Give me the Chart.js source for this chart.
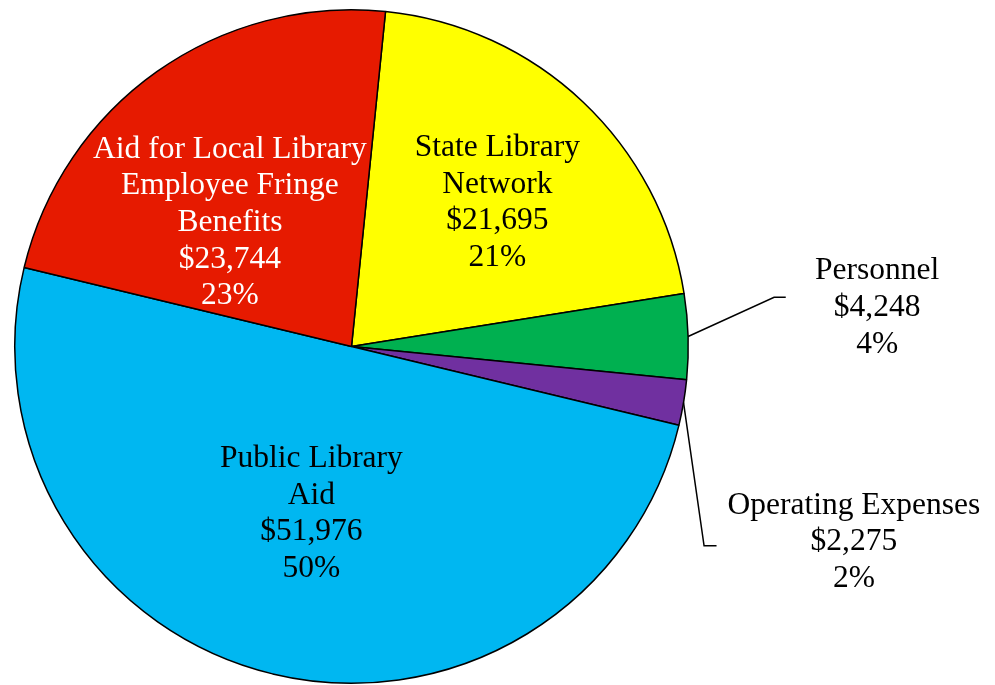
<!DOCTYPE html>
<html>
<head>
<meta charset="utf-8">
<script src="https://cdn.jsdelivr.net/npm/chart.js@4/dist/chart.umd.min.js"></script>
<style>
  html, body { margin: 0; padding: 0; background: #ffffff; }
  #wrap { width: 995px; height: 685px; }
</style>
</head>
<body>
<div id="wrap"><canvas id="budgetPie" width="995" height="685"></canvas></div>
<script>
// ====================================
// DATA
// ====================================
const categories = [
  ["State Library", "Network"],
  ["Personnel"],
  ["Operating Expenses"],
  ["Public Library", "Aid"],
  ["Aid for Local Library", "Employee Fringe", "Benefits"],
];
const amounts = [21695, 4248, 2275, 51976, 23744];

// ====================================
// STYLE / LAYOUT
// ====================================
const sliceColors = ["#ffff00", "#00b050", "#7030a0", "#00b7f1", "#e61a00"];
const textColors = ["#000000", "#000000", "#000000", "#000000", "#ffffff"];
const FONT_SIZE = 31.5;
const LINE_HEIGHT = 36.7;

// label anchor (centre x, first baseline) relative to pie centre, in radii
const labelAnchors = [
  { dx: 0.433, dy: -0.566 },
  { dx: 1.561, dy: -0.2 },
  { dx: 1.492, dy: 0.496 },
  { dx: -0.119, dy: 0.358 },
  { dx: -0.361, dy: -0.561 },
];
// leader lines for the outside labels: elbow and end point, in radii
const leaders = {
  1: { ex: 1.255, ey: -0.146, tx: 1.2895 },
  2: { ex: 1.047, ey: 0.592, tx: 1.084 },
};

const total = amounts.reduce((a, b) => a + b, 0);

// ====================================
// LABEL PLUGIN
// ====================================
const sliceLabels = {
  id: "sliceLabels",
  afterDatasetsDraw(chart) {
    const ctx = chart.ctx;
    const meta = chart.getDatasetMeta(0);
    ctx.save();
    meta.data.forEach(function (arc, i) {
      const p = arc.getProps(["x", "y", "outerRadius", "startAngle", "endAngle"], true);
      const r = p.outerRadius;

      // leader line from the slice edge
      const leader = leaders[i];
      if (leader) {
        const mid = (p.startAngle + p.endAngle) / 2;
        ctx.beginPath();
        ctx.moveTo(p.x + Math.cos(mid) * r, p.y + Math.sin(mid) * r);
        ctx.lineTo(p.x + leader.ex * r, p.y + leader.ey * r);
        ctx.lineTo(p.x + leader.tx * r, p.y + leader.ey * r);
        ctx.strokeStyle = "#000000";
        ctx.lineWidth = 1.5;
        ctx.stroke();
      }

      const lines = categories[i].concat([
        "$" + amounts[i].toLocaleString("en-US"),
        Math.round((amounts[i] / total) * 100) + "%",
      ]);
      const a = labelAnchors[i];
      ctx.font = FONT_SIZE + 'px "Liberation Serif", "Times New Roman", serif';
      ctx.fillStyle = textColors[i];
      ctx.textAlign = "center";
      ctx.textBaseline = "alphabetic";
      lines.forEach(function (line, k) {
        ctx.fillText(line, p.x + a.dx * r, p.y + a.dy * r + k * LINE_HEIGHT);
      });
    });
    ctx.restore();
  },
};

// ====================================
// CHART
// ====================================
new Chart(document.getElementById("budgetPie").getContext("2d"), {
  type: "pie",
  data: {
    labels: categories.map((c) => c.join(" ")),
    datasets: [
      {
        data: amounts,
        backgroundColor: sliceColors,
        borderColor: "#000000",
        borderWidth: 1.5,
      },
    ],
  },
  options: {
    responsive: false,
    devicePixelRatio: 1,
    animation: false,
    rotation: 5.8,
    layout: { padding: { left: 13, right: 305, top: 9, bottom: 1 } },
    plugins: {
      legend: { display: false },
      tooltip: { enabled: false },
    },
  },
  plugins: [sliceLabels],
});
</script>
</body>
</html>
